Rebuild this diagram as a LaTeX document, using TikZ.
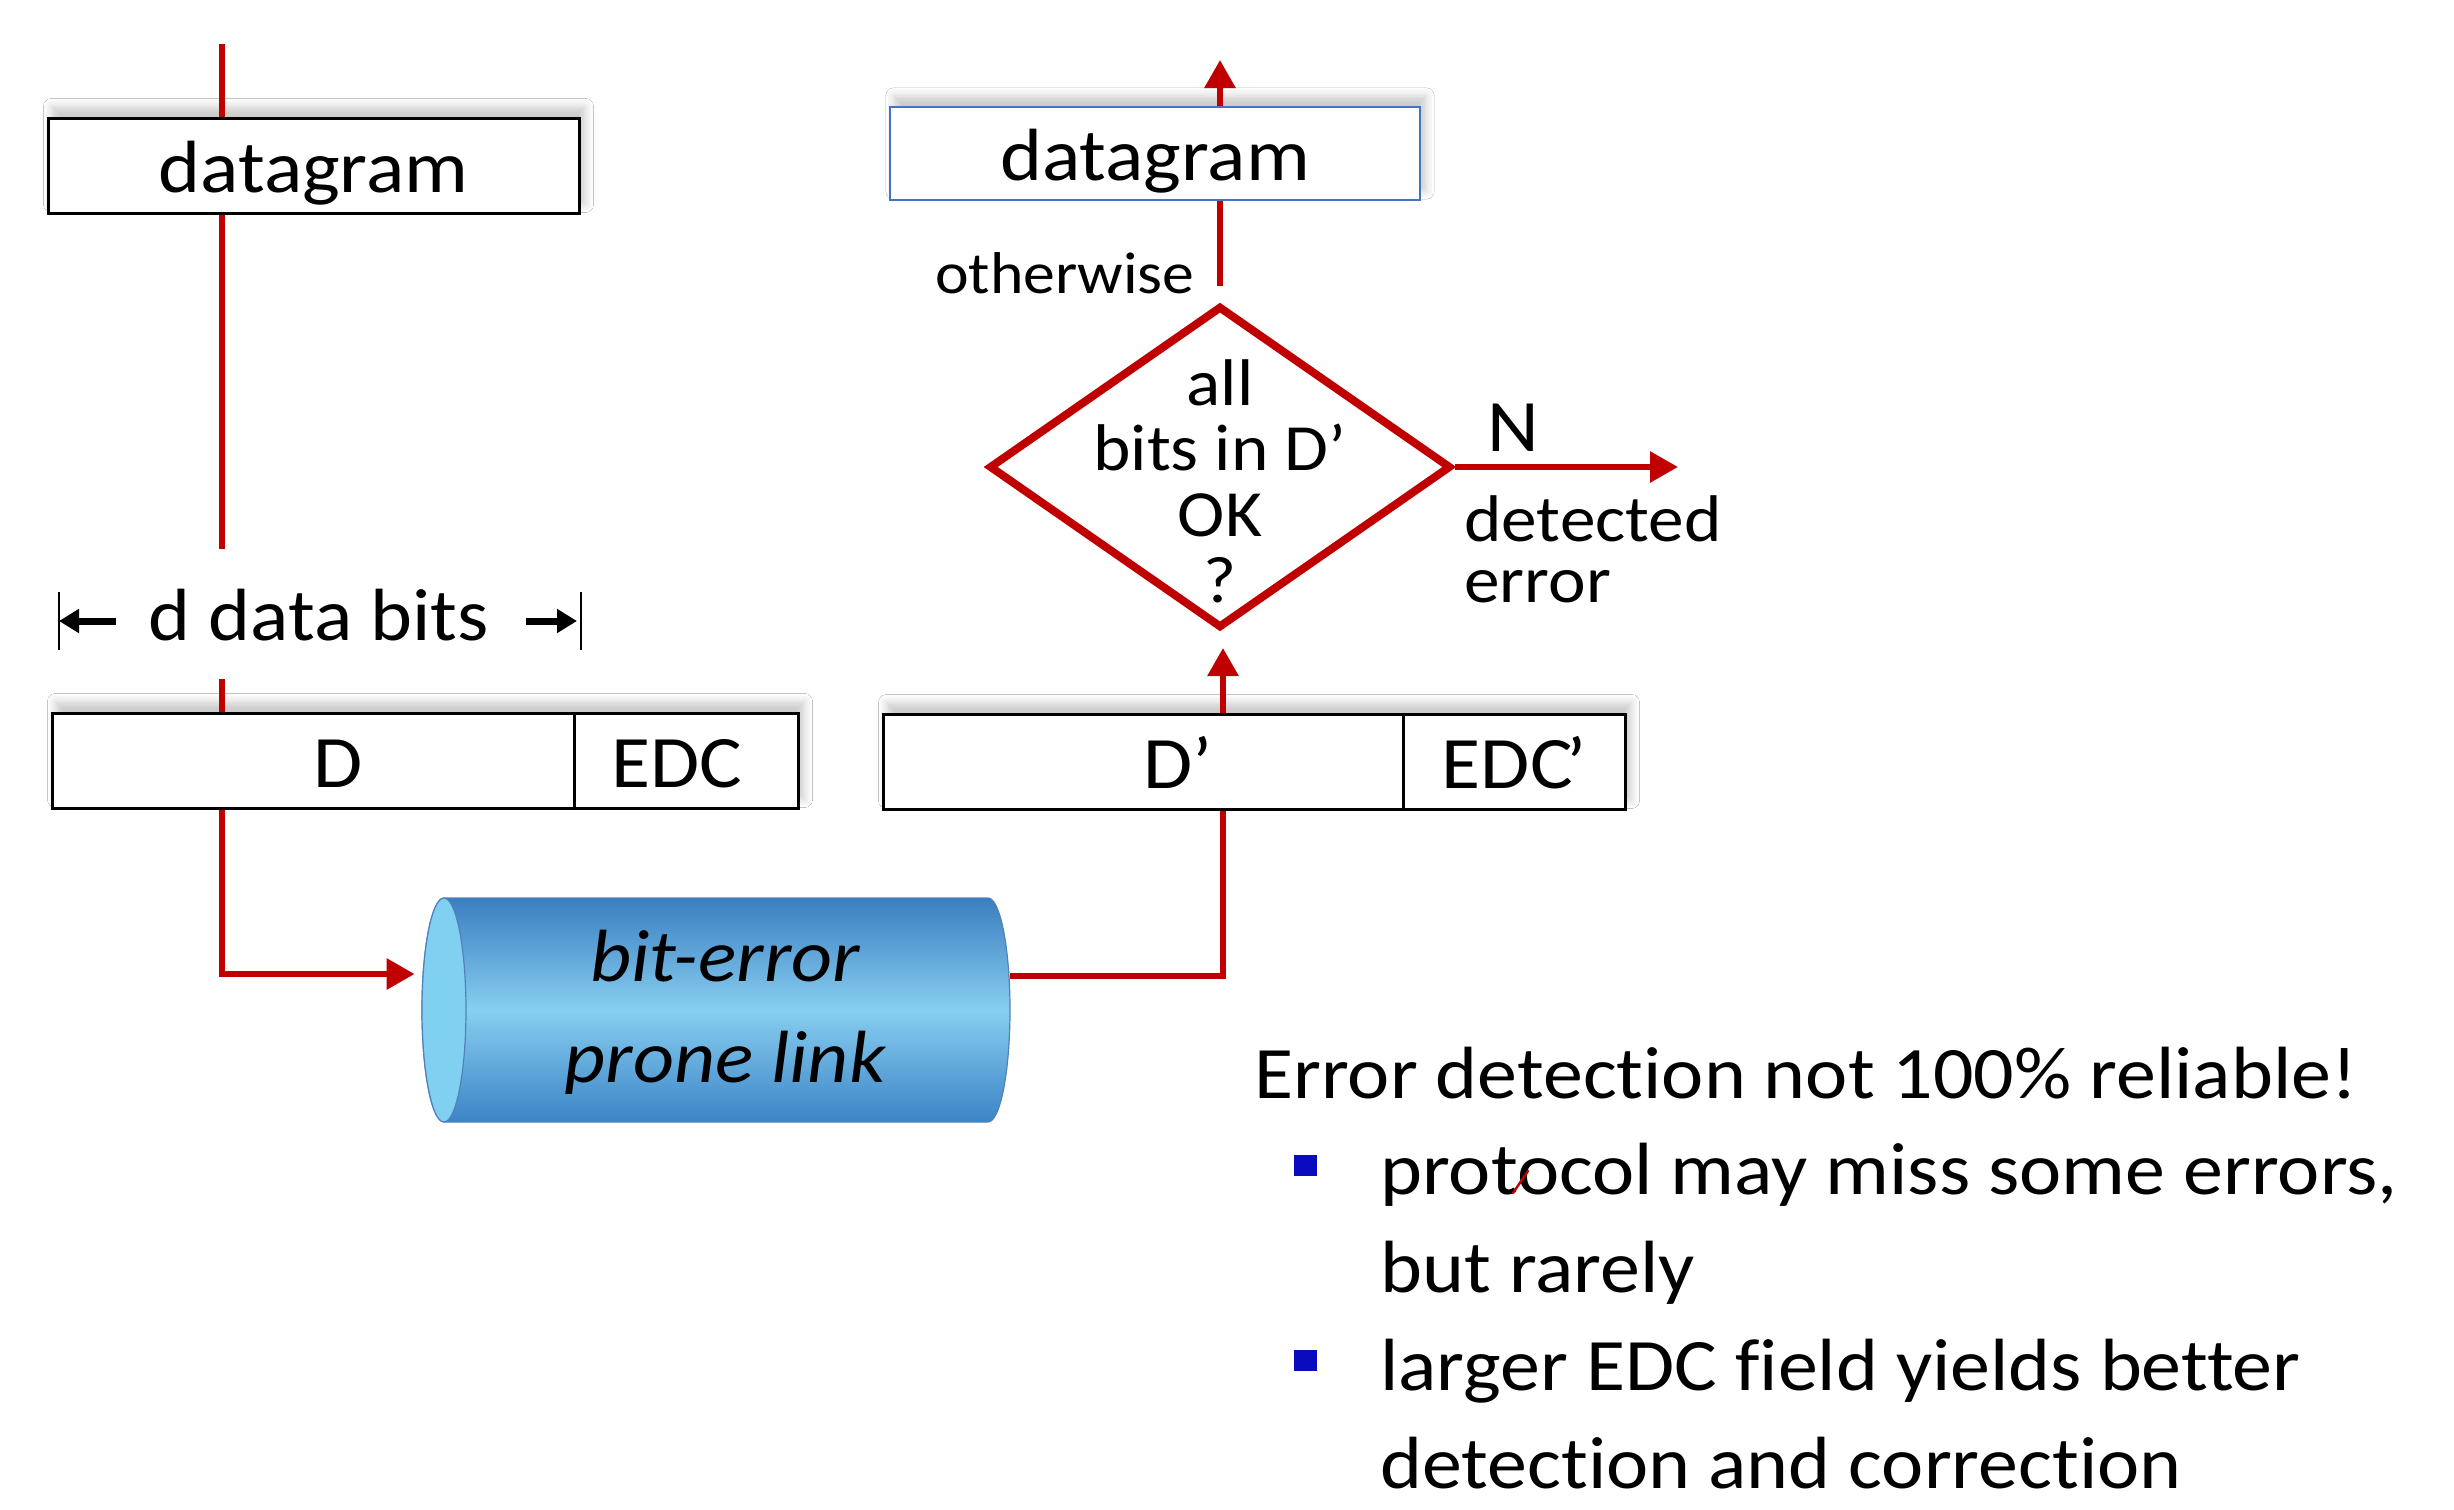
\documentclass[tikz,border=0pt]{standalone}
\usepackage{fontspec}
\setmainfont{Carlito}[Ligatures=NoCommon]
\usepackage{graphicx}
\usetikzlibrary{arrows.meta,shapes.geometric,shadows.blur,backgrounds}
\definecolor{dred}{RGB}{192,0,0}
\definecolor{boxblue}{RGB}{68,114,196}
\definecolor{bulblue}{RGB}{10,10,190}
\definecolor{cyltop}{RGB}{58,126,192}
\definecolor{cylmid}{RGB}{135,206,240}
\definecolor{cylbot}{RGB}{60,132,198}
\definecolor{cylcap}{RGB}{128,208,242}
\definecolor{cylline}{RGB}{80,130,185}
\newcommand{\sx}[1]{\scalebox{1.08}[1]{#1}}
\begin{document}
\begin{tikzpicture}[x=0.5pt,y=-0.5pt,
  bigfont/.style={font=\fontsize{37}{44}\selectfont},
  fieldbox/.style={draw=black, line width=1.5pt, fill=white, inner sep=0pt,
    minimum height=47.5pt, bigfont, text height=26.6pt, text depth=0pt},
  shadowbox/.style={fill=white, blur shadow={shadow xshift=2.5pt, shadow yshift=5pt,
    shadow blur radius=4pt, shadow opacity=20}},
  redline/.style={draw=dred, line width=3pt},
  redarrow/.style={redline, -{Triangle[length=14pt,width=15pt]}},
  dimarrow/.style={draw=black, line width=3.5pt, -{Triangle[length=10pt,width=11.5pt]}},
  ticks/.style={draw=black, line width=0.6pt},
  txt/.style={inner sep=0pt, bigfont},
  bulletsq/.style={fill=bulblue, minimum width=11.5pt, minimum height=10.5pt, inner sep=0pt},
]
\useasboundingbox (0,0) rectangle (2454,1510);

% cylinder (bit-error prone link)
\shade[top color=cyltop, bottom color=cylbot, middle color=cylmid, draw=cylline, line width=0.6pt]
  (444,898) -- (988,898) arc[start angle=90, end angle=-90, x radius=11pt, y radius=56pt]
  -- (444,1122) arc[start angle=-90, end angle=-270, x radius=11pt, y radius=56pt] -- cycle;
\fill[cylcap, draw=cylline, line width=0.6pt] (444,1010) ellipse[x radius=11pt, y radius=56pt];
\node[minimum width=294pt, minimum height=112pt, inner sep=0pt] (link) at (716,1010) {};
\node[txt, font=\fontsize{37}{50.5}\selectfont\itshape, align=center] (linktxt) at (725,1012)
  {\sx{bit-error}\\\sx{prone link}};

% boxes
\node[fieldbox, minimum width=265.5pt] (dg1) at (313.5,165.5) {\sx{datagram}};
\node[fieldbox, draw=boxblue, line width=1.2pt, minimum width=265pt, minimum height=46.5pt] (dg2) at (1155,153.5) {\sx{datagram}};
\node[fieldbox, minimum width=261pt] (Dl) at (313,760.5) {\hspace*{25pt}\sx{D}};
\node[fieldbox, minimum width=112pt] (EDCl) at (686,760.5) {\sx{EDC}\hspace*{9pt}};
\node[fieldbox, minimum width=260pt] (Dr) at (1143,761.5) {\hspace*{35pt}\sx{D’}};
\node[fieldbox, minimum width=111pt] (EDCr) at (1514,761.5) {\sx{EDC\kern-3pt’}};

\begin{scope}[on background layer]
  \fill[white] (0,0) rectangle (2454,1510);
  \path[shadowbox] (dg1.north west) rectangle (dg1.south east);
  \path[shadowbox] (dg2.north west) rectangle (dg2.south east);
  \path[shadowbox] (Dl.north west) rectangle (EDCl.south east);
  \path[shadowbox] (Dr.north west) rectangle (EDCr.south east);
\end{scope}

% decision
\node[diamond, draw=dred, line width=4pt, minimum width=231pt, minimum height=161pt, inner sep=0pt] (dia) at (1220,467) {};
\node[inner sep=0pt, align=center, font=\fontsize{33}{32.8}\selectfont] (qtxt) at (1220,481)
  {\sx{all}\\\sx{bits in D’}\\\sx{OK}\\\sx{?}};
\node[txt, font=\fontsize{29.5}{35}\selectfont, anchor=base east] (oth) at (1195,293) {\sx{otherwise}};
\node[txt, anchor=base west] (nlab) at (1487,451) {\sx{N}};
\node[txt, font=\fontsize{33}{30.5}\selectfont, align=left, anchor=north west] (det) at (1464,495)
  {\sx{detected}\\\sx{error}};

% d data bits
\node[txt, anchor=base] (dbits) at (319,640) {\sx{d data bits}};
\coordinate (tickLa) at (59,592);
\coordinate (tickLb) at (59,650);
\coordinate (tickRa) at (581,592);
\coordinate (tickRb) at (581,650);
\coordinate (dimLs) at (116,621);
\coordinate (dimLe) at (59,621);
\coordinate (dimRs) at (526,621);
\coordinate (dimRe) at (577,621);
\draw[ticks] (tickLa) -- (tickLb);
\draw[ticks] (tickRa) -- (tickRb);
\draw[dimarrow] (dimLs) -- (dimLe);
\draw[dimarrow] (dimRs) -- (dimRe);

% connectors
\coordinate (topL) at (222,44);
\coordinate (gapA) at (222,549);
\coordinate (gapB) at (222,679);
\coordinate (xR) at (1223,0);
\coordinate (topR) at (1220,60);
\coordinate (errEnd) at (1678,467);
\draw[redline] (topL) -- (dg1.north -| topL);
\draw[redline] (dg1.south -| topL) -- (gapA);
\draw[redline] (gapB) -- (Dl.north -| topL);
\draw[redarrow, shorten >=3.5pt] (Dl.south -| topL) |- ([yshift=18pt]link.west);
\draw[redline] ([yshift=17pt]link.east) -| (Dr.south -| xR);
\draw[redarrow] (Dr.north -| xR) -- ([yshift=-8pt]dia.south -| xR);
\draw[redline] ([yshift=8pt]dia.north) -- (dia.north |- dg2.south);
\draw[redarrow] (dg2.north -| dia.north) -- (topR);
\draw[redarrow] (dia.east) -- (errEnd);

% bullet list
\node[txt, anchor=base west] (head) at (1254,1098) {\sx{Error detection not 100\% reliable!}};
\node[bulletsq] (b1) at (1305.5,1165.5) {};
\node[bulletsq] (b2) at (1305.5,1360.5) {};
\node[txt, anchor=base west] (l1) at (1380,1194) {\sx{protocol may miss some errors,}};
\node[txt, anchor=base west] (l2) at (1380,1292) {\sx{but rarely}};
\node[txt, anchor=base west] (l3) at (1380,1390) {\sx{larger EDC field yields better}};
\node[txt, anchor=base west] (l4) at (1380,1488) {\sx{detection and correction}};
\draw[dred, line width=1.2pt, line cap=round] (1513,1193) -- (1528,1171);
\end{tikzpicture}
\end{document}
